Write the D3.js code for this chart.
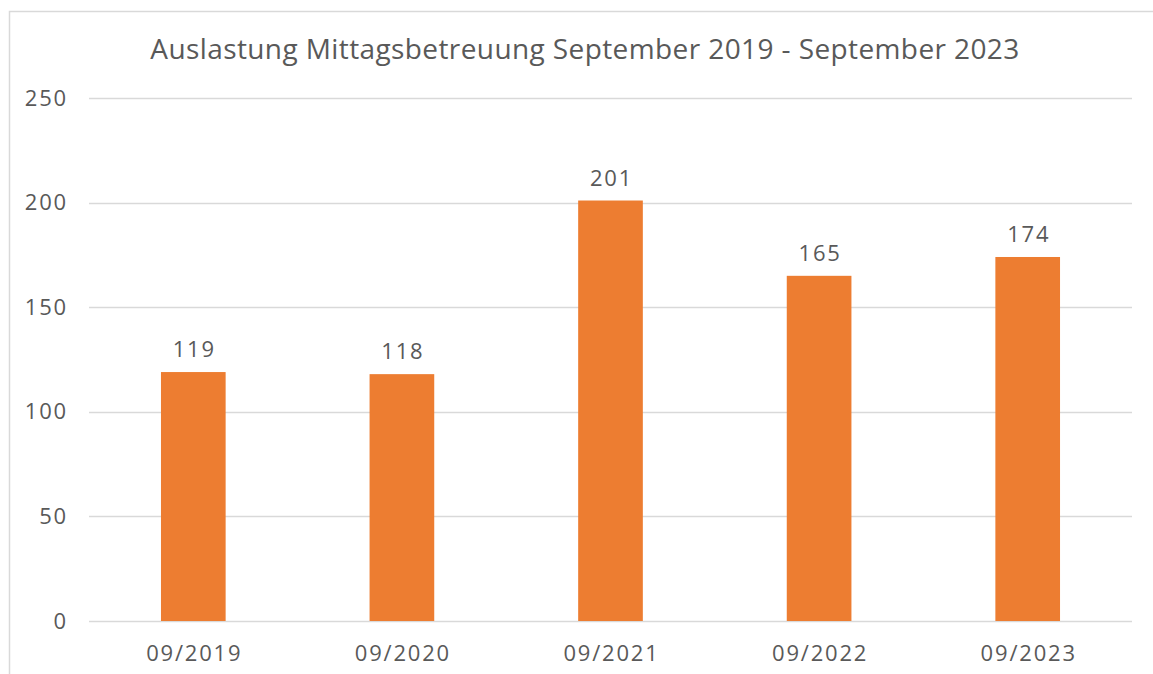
<!DOCTYPE html>
<html lang="de">
<head>
<meta charset="UTF-8">
<title>Auslastung Mittagsbetreuung</title>
<style>
  body { margin: 0; background: #fff; }
  text { font-family: "Open Sans", "DejaVu Sans", sans-serif; fill: #595959; }
</style>
</head>
<body>
<svg id="chart" width="1153" height="674"></svg>
<script src="https://cdn.jsdelivr.net/npm/d3@7"></script>
<script>
const titleText = "Auslastung Mittagsbetreuung September 2019 - September 2023";
const months = ["09/2019", "09/2020", "09/2021", "09/2022", "09/2023"];
const counts = [119, 118, 201, 165, 174];
const yTicks = [0, 50, 100, 150, 200, 250];

const svg = d3.select("#chart");
const plotLeft = 89, plotRight = 1132, plotTop = 98, plotBottom = 621;
const labelSize = 22, labelSpacing = "1.8px";

// chart frame (right and bottom edge are cut off in the picture)
svg.append("path")
    .attr("d", "M9.5,674 V11.5 H1153")
    .attr("fill", "none")
    .attr("stroke", "#d9d9d9")
    .attr("stroke-width", 1.5);

const x = d3.scaleBand().domain(months).range([plotLeft, plotRight]).paddingInner(0.69).paddingOuter(0.345);
const y = d3.scaleLinear().domain([0, 250]).range([plotBottom, plotTop]);

// gridlines
svg.append("g").selectAll("line")
    .data(yTicks)
    .enter().append("line")
    .attr("x1", plotLeft).attr("x2", plotRight)
    .attr("y1", d => Math.round(y(d)) + 0.5)
    .attr("y2", d => Math.round(y(d)) + 0.5)
    .attr("stroke", "#d9d9d9")
    .attr("stroke-width", 1.5);

// y labels
const yAxis = svg.append("g")
    .attr("transform", "translate(68,0)")
    .call(d3.axisLeft(y).tickValues(yTicks).tickSize(0).tickPadding(0));
yAxis.select(".domain").remove();
yAxis.selectAll("text")
    .attr("font-size", labelSize)
    .attr("letter-spacing", labelSpacing)
    .attr("fill", "#595959")
    .attr("font-family", "\"Open Sans\", sans-serif");

// bars
svg.append("g").selectAll("rect")
    .data(counts)
    .enter().append("rect")
    .attr("x", (d, i) => x(months[i]))
    .attr("width", x.bandwidth())
    .attr("y", d => y(d))
    .attr("height", d => y(0) - y(d))
    .attr("fill", "#ed7d31");

// value labels
svg.append("g").selectAll("text")
    .data(counts)
    .enter().append("text")
    .attr("x", (d, i) => x(months[i]) + x.bandwidth() / 2 + 1)
    .attr("y", d => y(d) - 15)
    .attr("text-anchor", "middle")
    .attr("font-size", labelSize)
    .attr("letter-spacing", labelSpacing)
    .text(d => d);

// x labels
const xAxis = svg.append("g")
    .attr("transform", "translate(1," + plotBottom + ")")
    .call(d3.axisBottom(x).tickSize(0).tickPadding(24));
xAxis.select(".domain").remove();
xAxis.selectAll("text")
    .attr("font-size", labelSize)
    .attr("letter-spacing", labelSpacing)
    .attr("fill", "#595959")
    .attr("font-family", "\"Open Sans\", sans-serif");

// title
svg.append("text")
    .attr("x", 585)
    .attr("y", 59)
    .attr("text-anchor", "middle")
    .attr("font-size", 28)
    .attr("letter-spacing", "0.4px")
    .text(titleText);
</script>
</body>
</html>
